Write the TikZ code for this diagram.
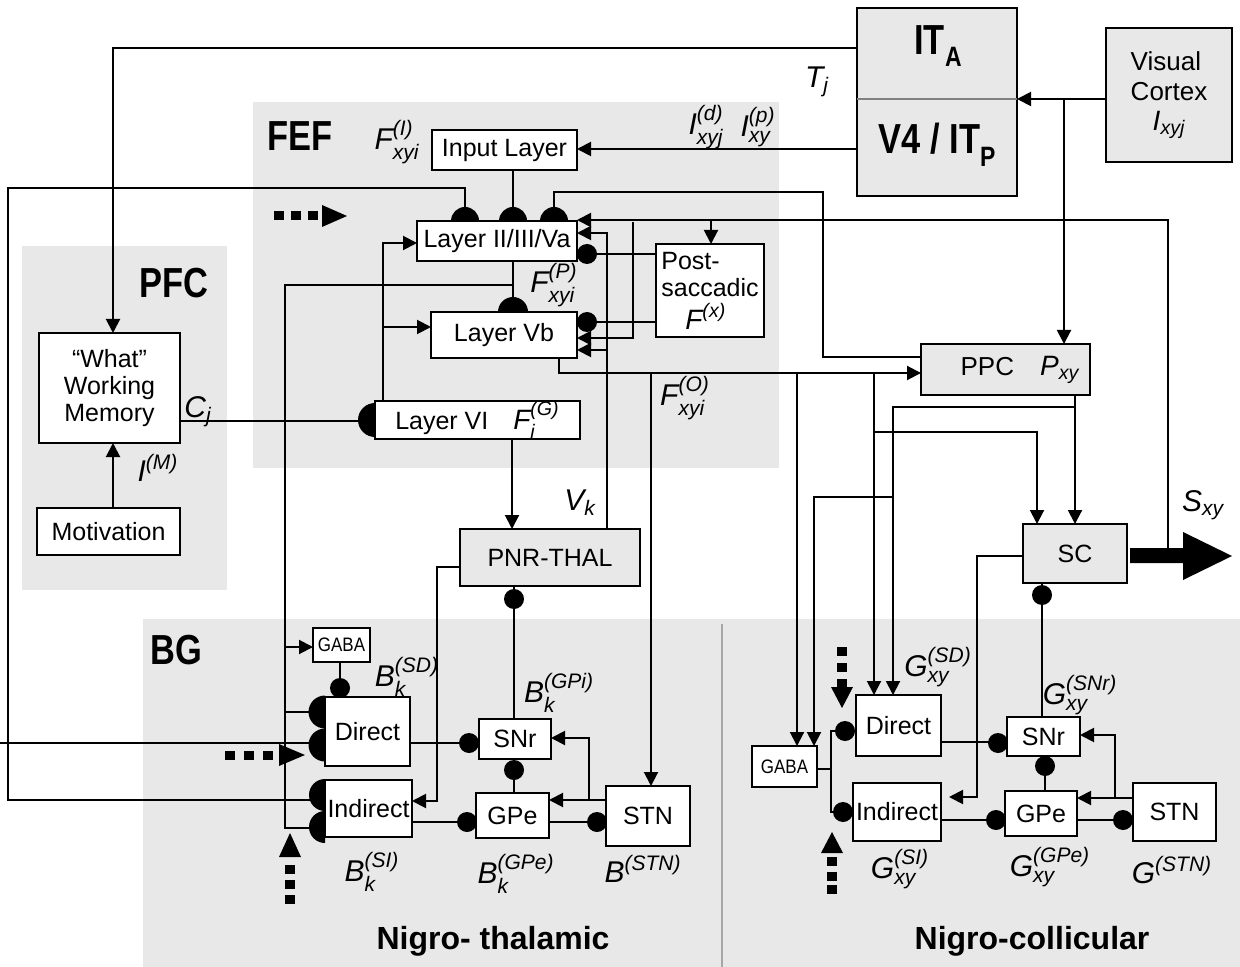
\documentclass[tikz,border=0pt]{standalone}
\usepackage{amsmath}
\usepackage{fontspec}
\setmainfont{Liberation Sans}
\usepackage{graphicx}
\usetikzlibrary{arrows.meta}
\definecolor{rg}{HTML}{E8E8E8}
\definecolor{divg}{HTML}{A6A6A6}
\newcommand{\vs}[3]{$\textit{#1}^{\text{\itshape #2}}_{\text{\itshape #3}}$}
\newcommand{\vsup}[2]{$\textit{#1}^{\text{\itshape #2}}$}
\newcommand{\vsub}[2]{$\textit{#1}_{\text{\itshape #2}}$}
\newcommand{\cnd}[1]{\scalebox{0.82}[1]{#1}}
\newcommand{\hdT}[3]{\fill (#1,#2) ++(-#3,0pt) arc[start angle=180,end angle=0,radius=#3] -- cycle;}
\newcommand{\hdL}[3]{\fill (#1,#2) ++(0pt,#3) arc[start angle=90,end angle=270,radius=#3] -- cycle;}
\newcommand{\syn}[2]{\fill (#1,#2) circle[radius=5pt];}
\newcommand{\sq}[2]{\fill (#1,#2) ++(-5,-4.5) rectangle ++(10,9);}
% box from pixel corners: [style]{name}{x1}{y1}{x2}{y2}{text}
\newcommand{\bxn}[7][box]{%
  \pgfmathsetmacro\bcx{(#3+#5)/2}\pgfmathsetmacro\bcy{(#4+#6)/2}%
  \pgfmathsetmacro\bww{(#5-#3)*0.5}\pgfmathsetmacro\bhh{(#6-#4)*0.5}%
  \node[#1, minimum width=\bww pt, minimum height=\bhh pt] (#2) at (\bcx,\bcy) {#7};}
\begin{document}
\begin{tikzpicture}[x=0.5pt,y=-0.5pt,
  box/.style={draw, line width=1pt, fill=white, inner sep=0pt, font=\fontsize{12.5}{14}\selectfont, align=center},
  gbox/.style={box, fill=rg},
  ln/.style={line width=1pt},
  arr/.style={line width=1pt, -{Triangle[length=7pt,width=7pt]}},
  lab/.style={inner sep=0pt, font=\fontsize{15}{17}\selectfont},
  bigl/.style={inner sep=0pt, font=\fontsize{21}{21}\selectfont\bfseries},
  ttl/.style={inner sep=0pt, font=\fontsize{16}{16}\selectfont\bfseries},
  gabaf/.style={box, font=\fontsize{9.75}{10}\selectfont}]
\useasboundingbox (0,0) rectangle (1240,967);
% regions
\fill[rg] (253,102) rectangle (779,468);
\fill[rg] (22,246) rectangle (227,590);
\fill[rg] (143,619) rectangle (1240,967);
\draw[divg, line width=1pt] (722,624) -- (722,967);
\node[bigl] (tFEF) at (300,136) {\cnd{FEF}};
\node[bigl] (tPFC) at (174,283) {\cnd{PFC}};
\node[bigl] (tBG) at (176,650) {\cnd{BG}};
\node[ttl] (tNT) at (493,941) {Nigro- thalamic};
\node[ttl] (tNC) at (1032,941) {Nigro-collicular};

% boxes
\bxn[gbox]{IT}{857}{8}{1017}{196}{}
\draw[gray, line width=0.8pt] (857,99) -- (1017,99);
\node[bigl] (ITA) at (938,46) {\cnd{IT\raisebox{-0.3em}{\fontsize{14}{14}\selectfont A}}};
\node[bigl] (V4) at (937,145) {\cnd{V4 / IT\raisebox{-0.3em}{\fontsize{14}{14}\selectfont P}}};
\bxn[gbox, align=left, font=\fontsize{13}{15}\selectfont]{VC}{1106}{28}{1232}{162}{Visual\\Cortex\\\hspace*{11pt}{\fontsize{14}{14}\selectfont\vsub{I}{xyj}}}
\bxn{IN}{432}{130}{577}{170}{Input Layer}
\bxn{L2}{417}{221}{577}{261}{Layer II/III/Va}
\bxn{VB}{431}{312}{577}{358}{Layer Vb}
\bxn{L6}{375}{402}{580}{438}{Layer VI\quad{\fontsize{14}{14}\selectfont\vs{F}{(G)}{i}}}
\bxn[box, align=left, font=\fontsize{12.5}{13.5}\selectfont]{PS}{656}{244}{764}{337}{Post-\\saccadic\\[3pt]\hspace*{12pt}{\fontsize{14}{14}\selectfont\vsup{F}{(x)}}}
\bxn[gbox]{PPC}{921}{344}{1090}{395}{}
\node[inner sep=0pt, font=\fontsize{13}{14}\selectfont] (PPCt) at (1020,370) {PPC\quad{\fontsize{14}{14}\selectfont\vsub{P}{xy}}};
\bxn[box, font=\fontsize{12.5}{13.5}\selectfont]{WM}{39}{333}{180}{443}{“What”\\Working\\Memory}
\bxn{MOT}{37}{508}{180}{555}{Motivation}
\bxn[gbox]{PNR}{460}{529}{640}{586}{PNR-THAL}
\bxn[gbox]{SC}{1023}{524}{1127}{583}{SC}
% left BG
\bxn[gabaf]{GA1}{313}{628}{370}{662}{\scalebox{0.87}[1]{GABA}}
\bxn{DI1}{325}{697}{410}{766}{Direct}
\bxn{IND1}{325}{780}{412}{837}{Indirect}
\bxn{SNR1}{479}{719}{551}{759}{SNr}
\bxn{GPE1}{476}{793}{549}{838}{GPe}
\bxn{STN1}{606}{786}{690}{846}{STN}
% right BG
\bxn[gabaf]{GA2}{752}{746}{817}{787}{\scalebox{0.87}[1]{GABA}}
\bxn{DI2}{856}{695}{941}{756}{Direct}
\bxn{IND2}{853}{783}{941}{841}{Indirect}
\bxn{SNR2}{1007}{717}{1080}{756}{SNr}
\bxn{GPE2}{1005}{791}{1077}{836}{GPe}
\bxn{STN2}{1133}{783}{1216}{841}{STN}

% connectors top
\draw[arr] (857,48) -- (113,48) -- (113,333);
\draw[arr] (857,149) -- (577,149);
\draw[arr] (1106,99) -- (1017,99);
\draw[arr] (1064,99) -- (1064,344);
\draw[ln] (513,170) -- (513,221);
\draw[ln] (465,221) -- (465,188) -- (8,188) -- (8,800) -- (322,800);
\draw[ln] (554,221) -- (554,192) -- (823,192) -- (823,357) -- (921,357);
\draw[arr] (1168,548) -- (1168,220) -- (577,220);
\draw[arr] (711,220) -- (711,244);
\draw[arr] (633,222) -- (633,338) -- (577,338);
\draw[arr] (607,529) -- (607,233) -- (577,233);
\draw[arr] (607,350) -- (577,350);
\draw[ln] (656,254) -- (587,254);
\draw[ln] (656,322) -- (587,322);
\draw[arr] (383,402) -- (383,243) -- (417,243);
\draw[arr] (383,327) -- (431,327);
\draw[ln] (513,261) -- (513,312);
\draw[ln] (513,285) -- (285,285) -- (285,828) -- (322,828);
\draw[arr] (285,647) -- (313,647);
\draw[ln] (285,712) -- (322,712);
\draw[ln] (180,421) -- (372,421);
\draw[arr] (113,508) -- (113,443);
\draw[arr] (512,438) -- (512,529);
\draw[arr] (559,358) -- (559,373) -- (921,373);
\draw[arr] (651,373) -- (651,786);
\draw[arr] (797,373) -- (797,746);
\draw[arr] (874,373) -- (874,695);
\draw[arr] (874,432) -- (1037,432) -- (1037,524);
\draw[arr] (1075,395) -- (1075,524);
\draw[arr] (1075,407) -- (893,407) -- (893,695);
\draw[arr] (893,497) -- (814,497) -- (814,746);
\draw[arr] (1023,556) -- (977,556) -- (977,797) -- (949,797);
\draw[ln] (1042,583) -- (1042,717);
\fill (1130,548) -- (1183,548) -- (1183,532) -- (1232,556) -- (1183,580) -- (1183,563) -- (1130,563) -- cycle;
% left BG connectors
\draw[arr] (460,567) -- (437,567) -- (437,801) -- (412,801);
\draw[ln] (514,586) -- (514,719);
\draw[ln] (340,662) -- (340,688);
\draw[ln] (410,743) -- (469,743);
\draw[ln] (412,822) -- (467,822);
\draw[ln] (514,759) -- (514,793);
\draw[ln] (549,822) -- (597,822);
\draw[arr] (606,800) -- (549,800);
\draw[arr] (589,800) -- (589,738) -- (551,738);
\draw[ln] (0,743) -- (322,743);
% right BG connectors
\draw[ln] (817,769) -- (831,769);
\draw[ln] (845,731) -- (831,731) -- (831,812) -- (843,812);
\draw[ln] (941,742) -- (998,742);
\draw[ln] (941,820) -- (996,820);
\draw[ln] (1045,756) -- (1045,791);
\draw[ln] (1077,820) -- (1123,820);
\draw[arr] (1133,798) -- (1077,798);
\draw[arr] (1115,798) -- (1115,735) -- (1080,735);

% excitatory half disks
\hdT{465}{221}{7pt}
\hdT{513}{221}{7pt}
\hdT{554}{221}{7pt}
\hdT{513}{312}{7.5pt}
\hdL{375}{420}{8.5pt}
\hdL{325}{712}{8.25pt}
\hdL{325}{745}{8.25pt}
\hdL{325}{795}{8pt}
\hdL{325}{827}{8pt}
% inhibitory dots
\syn{587}{254}
\syn{587}{322}
\syn{340}{688}
\syn{469}{743}
\syn{467}{822}
\syn{514}{770}
\syn{597}{822}
\syn{514}{599}
\syn{1042}{595}
\syn{845}{731}
\syn{843}{812}
\syn{998}{743}
\syn{996}{820}
\syn{1045}{766}
\syn{1123}{820}
% dashed modulatory arrows
\sq{279}{216}\sq{296}{216}\sq{313}{216}
\fill (322,205) -- (347,216) -- (322,227) -- cycle;
\sq{230}{755}\sq{249}{755}\sq{268}{755}
\fill (279,744) -- (305,755) -- (279,766) -- cycle;
\sq{290}{869}\sq{290}{884}\sq{290}{899}
\fill (279,857) -- (290,833) -- (301,857) -- cycle;
\sq{842}{651}\sq{842}{667}\sq{842}{683}
\fill (831,687) -- (842,708) -- (853,687) -- cycle;
\sq{832}{861}\sq{832}{876}\sq{832}{889}
\fill (821,853) -- (832,832) -- (843,853) -- cycle;

% labels
\node[lab] (lT) at (817,82) {\vsub{T}{j}};
\node[lab] (lId) at (706,127) {\vs{I}{(d)}{xyj}};
\node[lab] (lIp) at (758,127) {\vs{I}{(p)}{xy}};
\node[lab] (lFI) at (397,142) {\vs{F}{(I)}{xyi}};
\node[lab] (lFP) at (554,285) {\vs{F}{(P)}{xyi}};
\node[lab] (lFO) at (685,398) {\vs{F}{(O)}{xyi}};
\node[lab] (lV) at (580,503) {\vsub{V}{k}};
\node[lab] (lC) at (198,412) {\vsub{C}{j}};
\node[lab] (lIM) at (158,468) {\vsup{I}{(M)}};
\node[lab] (lS) at (1203,505) {\vsub{S}{xy}};
\node[lab] (lBSD) at (407,677) {\vs{B}{(SD)}{k}};
\node[lab] (lBGPi) at (559,693) {\vs{B}{(GPi)}{k}};
\node[lab] (lBSI) at (372,872) {\vs{B}{(SI)}{k}};
\node[lab] (lBGPe) at (516,874) {\vs{B}{(GPe)}{k}};
\node[lab] (lBSTN) at (643,869) {\vsup{B}{(STN)}};
\node[lab] (lGSD) at (938,667) {\vs{G}{(SD)}{xy}};
\node[lab] (lGSNr) at (1080,695) {\vs{G}{(SNr)}{xy}};
\node[lab] (lGSI) at (900,869) {\vs{G}{(SI)}{xy}};
\node[lab] (lGGPe) at (1050,867) {\vs{G}{(GPe)}{xy}};
\node[lab] (lGSTN) at (1172,870) {\vsup{G}{(STN)}};
\end{tikzpicture}
\end{document}
